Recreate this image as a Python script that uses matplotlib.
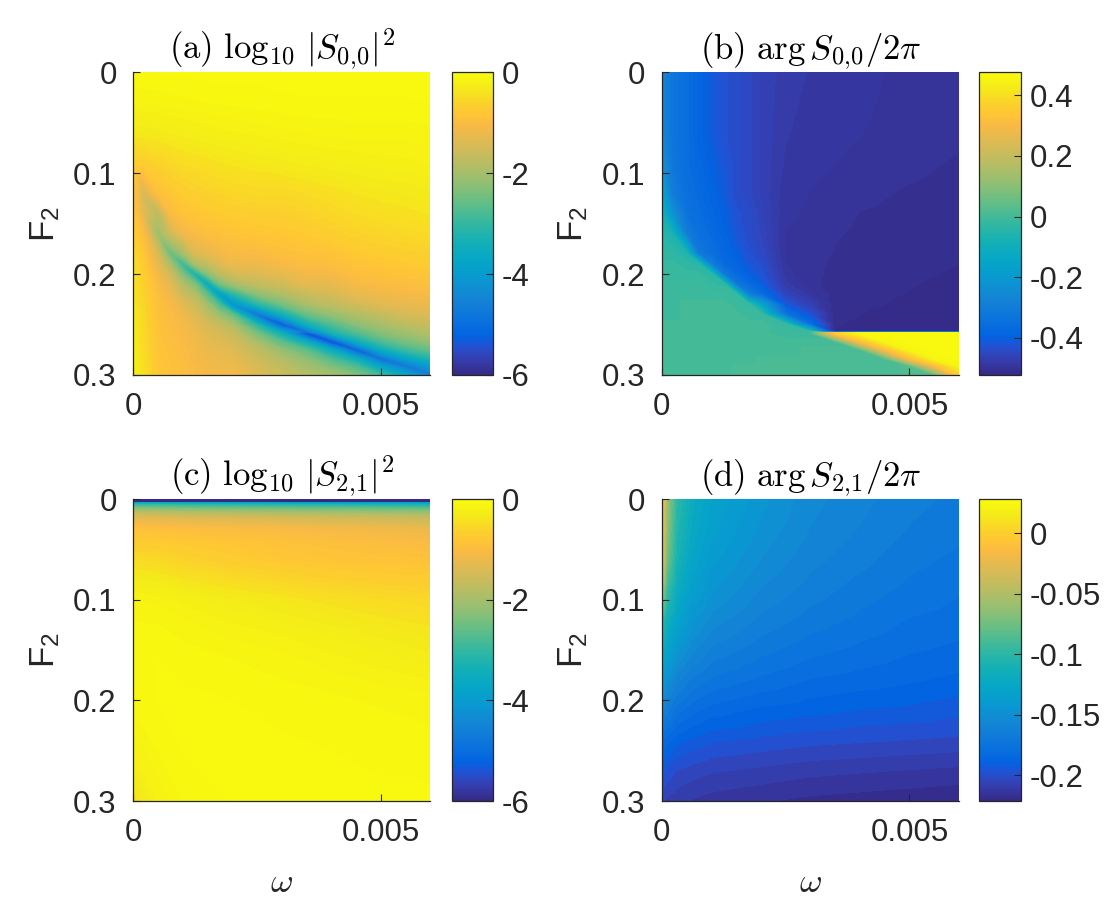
import numpy as np
import matplotlib
matplotlib.use('Agg')
import matplotlib.pyplot as plt
import matplotlib.tri as mtri
from matplotlib.colors import LinearSegmentedColormap, Normalize
from matplotlib.cm import ScalarMappable

plt.rcParams['font.family'] = ['Liberation Sans', 'DejaVu Sans']
plt.rcParams['mathtext.fontset'] = 'cm'
plt.rcParams['mathtext.rm'] = 'Liberation Sans'
plt.rcParams['mathtext.it'] = 'Liberation Sans:italic'
plt.rcParams['axes.unicode_minus'] = False

# ---- data (each inner list = one omega column, top to bottom in F2) ----
omega_top = [0, 0.0002, 0.0005, 0.00075, 0.001, 0.00125, 0.0015, 0.00175, 0.002,
             0.0025, 0.003, 0.0035, 0.004, 0.0045, 0.005, 0.0055, 0.006]
f2_top = [0, 0.03, 0.06, 0.09, 0.12, 0.14, 0.16, 0.18, 0.19, 0.20, 0.21,
          0.22, 0.23, 0.24, 0.25, 0.2575, 0.2585, 0.267, 0.275, 0.284, 0.291, 0.30]

# (a) log10 |S00|^2
s00_logabs = [
    [-0.05, -0.15, -0.35, -0.68, -0.9, -0.85, -0.68, -0.55, -0.5, -0.46, -0.42, -0.39, -0.36, -0.33, -0.31, -0.3, -0.3, -0.28, -0.27, -0.25, -0.24, -0.22],
    [-0.05, -0.15, -0.35, -0.7, -1.5, -1.35, -1.0, -0.82, -0.75, -0.7, -0.66, -0.62, -0.59, -0.56, -0.54, -0.53, -0.53, -0.51, -0.5, -0.48, -0.47, -0.46],
    [-0.05, -0.14, -0.33, -0.62, -0.95, -1.8, -2.1, -1.5, -1.3, -1.15, -1.05, -0.98, -0.94, -0.92, -0.9, -0.89, -0.89, -0.87, -0.85, -0.83, -0.81, -0.8],
    [-0.045, -0.13, -0.3, -0.56, -0.83, -1.05, -1.6, -2.6, -2.0, -1.6, -1.35, -1.18, -1.08, -1.03, -1.0, -0.98, -0.98, -0.96, -0.94, -0.92, -0.9, -0.88],
    [-0.04, -0.12, -0.28, -0.5, -0.72, -0.88, -1.2, -2.1, -3.0, -2.4, -1.9, -1.6, -1.35, -1.2, -1.12, -1.09, -1.08, -1.05, -1.02, -1.0, -0.98, -0.97],
    [-0.035, -0.11, -0.26, -0.47, -0.67, -0.83, -1.05, -1.45, -2.0, -3.35, -2.4, -1.9, -1.6, -1.42, -1.3, -1.22, -1.21, -1.17, -1.13, -1.1, -1.07, -1.05],
    [-0.03, -0.1, -0.24, -0.44, -0.63, -0.78, -0.97, -1.3, -1.7, -2.35, -3.7, -2.7, -2.1, -1.75, -1.5, -1.38, -1.37, -1.29, -1.22, -1.18, -1.15, -1.12],
    [-0.03, -0.095, -0.22, -0.41, -0.6, -0.75, -0.92, -1.16, -1.4, -1.8, -2.5, -4.0, -2.9, -2.15, -1.72, -1.52, -1.5, -1.38, -1.3, -1.22, -1.18, -1.12],
    [-0.03, -0.09, -0.21, -0.39, -0.57, -0.72, -0.88, -1.07, -1.22, -1.55, -2.1, -3.2, -4.3, -2.6, -1.95, -1.68, -1.65, -1.48, -1.36, -1.26, -1.2, -1.12],
    [-0.03, -0.08, -0.19, -0.35, -0.54, -0.67, -0.83, -1.05, -1.2, -1.42, -1.72, -2.3, -3.2, -4.9, -3.2, -2.5, -2.45, -2.0, -1.75, -1.58, -1.47, -1.38],
    [-0.02, -0.07, -0.17, -0.32, -0.55, -0.67, -0.8, -0.96, -1.08, -1.3, -1.55, -1.95, -2.5, -3.5, -5.4, -3.7, -3.5, -2.7, -2.2, -1.9, -1.74, -1.6],
    [-0.02, -0.06, -0.15, -0.29, -0.5, -0.62, -0.75, -0.9, -1.0, -1.13, -1.3, -1.65, -2.0, -2.6, -3.5, -5.0, -5.7, -3.6, -2.7, -2.25, -2.05, -1.85],
    [-0.02, -0.06, -0.14, -0.27, -0.45, -0.56, -0.68, -0.88, -0.97, -1.12, -1.3, -1.5, -1.75, -2.2, -2.8, -3.3, -3.45, -5.6, -3.6, -2.8, -2.4, -2.0],
    [-0.02, -0.06, -0.13, -0.25, -0.4, -0.5, -0.62, -0.78, -0.87, -0.97, -1.1, -1.27, -1.55, -1.9, -2.3, -2.75, -2.8, -3.6, -5.3, -3.5, -2.85, -2.35],
    [-0.02, -0.06, -0.13, -0.23, -0.37, -0.46, -0.58, -0.73, -0.82, -0.92, -1.03, -1.18, -1.36, -1.7, -2.0, -2.3, -2.33, -2.85, -3.6, -5.0, -3.9, -2.9],
    [-0.02, -0.06, -0.13, -0.22, -0.35, -0.43, -0.54, -0.69, -0.77, -0.87, -0.98, -1.11, -1.28, -1.48, -1.8, -2.05, -2.08, -2.45, -2.95, -3.9, -4.8, -3.7],
    [-0.02, -0.05, -0.12, -0.2, -0.32, -0.4, -0.5, -0.66, -0.74, -0.84, -0.95, -1.08, -1.22, -1.4, -1.62, -1.82, -1.85, -2.2, -2.6, -3.3, -4.0, -4.7],
]

# (b) arg S00 / 2pi
s00_phase = [
    [-0.27, -0.27, -0.26, -0.23, -0.16, -0.09, -0.05, -0.03, -0.02, -0.02, -0.01, -0.01, -0.01, -0.01, 0.0, 0.0, 0.0, 0.0, 0.0, 0.0, 0.0, 0.0],
    [-0.33, -0.33, -0.33, -0.32, -0.3, -0.22, -0.07, -0.03, -0.02, -0.02, -0.01, -0.01, -0.01, -0.01, 0.0, 0.0, 0.0, 0.0, 0.0, 0.0, 0.0, 0.0],
    [-0.36, -0.36, -0.36, -0.36, -0.35, -0.34, -0.3, -0.06, -0.03, -0.02, -0.01, -0.01, 0.0, 0.0, 0.0, 0.0, 0.0, 0.0, 0.0, 0.0, 0.0, 0.0],
    [-0.39, -0.39, -0.39, -0.38, -0.37, -0.36, -0.35, -0.32, -0.05, -0.02, -0.01, -0.01, 0.0, 0.0, 0.0, 0.0, 0.0, 0.0, 0.0, 0.0, 0.0, 0.0],
    [-0.41, -0.41, -0.41, -0.4, -0.39, -0.38, -0.37, -0.35, -0.3, -0.04, -0.02, -0.01, 0.0, 0.0, 0.0, 0.0, 0.0, 0.0, 0.0, 0.0, 0.0, 0.0],
    [-0.43, -0.43, -0.43, -0.42, -0.41, -0.4, -0.39, -0.38, -0.37, -0.32, -0.03, -0.01, 0.0, 0.0, 0.0, 0.0, 0.0, 0.0, 0.0, 0.0, 0.0, 0.0],
    [-0.44, -0.44, -0.44, -0.44, -0.44, -0.43, -0.42, -0.4, -0.39, -0.37, -0.32, -0.02, -0.01, 0.0, 0.0, 0.0, 0.0, 0.0, 0.0, 0.0, 0.01, 0.01],
    [-0.45, -0.45, -0.45, -0.45, -0.45, -0.44, -0.44, -0.43, -0.42, -0.4, -0.37, -0.3, -0.02, -0.01, 0.0, 0.0, 0.0, 0.0, 0.0, 0.0, 0.01, 0.01],
    [-0.465, -0.465, -0.465, -0.465, -0.465, -0.46, -0.455, -0.445, -0.435, -0.425, -0.405, -0.36, -0.15, -0.01, 0.0, 0.0, 0.0, 0.0, 0.0, 0.01, 0.01, 0.01],
    [-0.478, -0.48, -0.482, -0.485, -0.489, -0.491, -0.494, -0.495, -0.493, -0.49, -0.48, -0.46, -0.42, -0.34, -0.02, -0.01, -0.01, 0.0, 0.0, 0.01, 0.01, 0.01],
    [-0.484, -0.486, -0.488, -0.49, -0.4935, -0.495, -0.497, -0.499, -0.5, -0.5, -0.5, -0.49, -0.47, -0.43, -0.36, -0.02, -0.01, 0.0, 0.01, 0.01, 0.01, 0.01],
    [-0.486, -0.488, -0.49, -0.493, -0.497, -0.4995, -0.502, -0.504, -0.505, -0.506, -0.507, -0.508, -0.51, -0.511, -0.5125, -0.5135, 0.35, 0.0, 0.01, 0.01, 0.01, 0.01],
    [-0.488, -0.49, -0.4925, -0.496, -0.5005, -0.5035, -0.505, -0.507, -0.508, -0.509, -0.51, -0.511, -0.512, -0.513, -0.5145, -0.5155, 0.46, 0.3, 0.01, 0.01, 0.01, 0.01],
    [-0.493, -0.495, -0.497, -0.5, -0.5025, -0.5045, -0.506, -0.508, -0.509, -0.51, -0.511, -0.512, -0.513, -0.5145, -0.516, -0.517, 0.47, 0.45, 0.3, 0.01, 0.01, 0.01],
    [-0.494, -0.496, -0.498, -0.501, -0.504, -0.506, -0.508, -0.5095, -0.5105, -0.5115, -0.5125, -0.5135, -0.515, -0.516, -0.517, -0.518, 0.47, 0.47, 0.45, 0.3, 0.02, 0.02],
    [-0.496, -0.498, -0.5, -0.5025, -0.505, -0.507, -0.509, -0.511, -0.512, -0.5128, -0.514, -0.515, -0.516, -0.517, -0.518, -0.519, 0.47, 0.47, 0.47, 0.45, 0.3, 0.02],
    [-0.497, -0.499, -0.501, -0.504, -0.507, -0.508, -0.51, -0.512, -0.513, -0.514, -0.515, -0.516, -0.517, -0.518, -0.519, -0.52, 0.47, 0.47, 0.47, 0.47, 0.45, 0.35],
]

# (c) log10 |S21|^2
omega_c = [0, 0.0005, 0.001, 0.002, 0.003, 0.004, 0.005, 0.006]
f2_c = [0, 0.003, 0.0035, 0.006, 0.01, 0.015, 0.02, 0.03, 0.045, 0.06,
        0.08, 0.1, 0.13, 0.16, 0.2, 0.25, 0.3]
s21_logabs = [
    [-6.1, -6.1, -3.8, -2.9, -2.2, -1.6, -1.25, -0.9, -0.7, -0.5, -0.3, -0.15, -0.08, -0.05, -0.08, -0.2, -0.45],
    [-6.1, -6.1, -3.8, -2.95, -2.25, -1.65, -1.3, -0.93, -0.72, -0.55, -0.33, -0.17, -0.09, -0.05, -0.05, -0.1, -0.2],
    [-6.1, -6.1, -3.85, -3.0, -2.3, -1.7, -1.35, -0.96, -0.76, -0.62, -0.4, -0.22, -0.12, -0.07, -0.04, -0.05, -0.1],
    [-6.1, -6.1, -3.9, -3.05, -2.35, -1.75, -1.4, -1.0, -0.82, -0.72, -0.5, -0.3, -0.18, -0.1, -0.05, -0.04, -0.05],
    [-6.1, -6.1, -3.95, -3.1, -2.4, -1.8, -1.45, -1.05, -0.88, -0.8, -0.58, -0.37, -0.22, -0.13, -0.07, -0.04, -0.03],
    [-6.1, -6.1, -4.0, -3.15, -2.45, -1.85, -1.5, -1.1, -0.93, -0.85, -0.65, -0.44, -0.28, -0.18, -0.09, -0.05, -0.03],
    [-6.1, -6.1, -4.0, -3.2, -2.5, -1.9, -1.55, -1.15, -0.97, -0.88, -0.7, -0.5, -0.33, -0.23, -0.11, -0.06, -0.04],
    [-6.1, -6.1, -4.0, -3.25, -2.55, -1.95, -1.6, -1.22, -1.02, -0.9, -0.72, -0.55, -0.38, -0.28, -0.13, -0.07, -0.04],
]

# (d) arg S21 / 2pi
omega_d = [0, 0.0001, 0.0003, 0.0006, 0.001, 0.002, 0.003, 0.004, 0.005, 0.006]
f2_d = [0, 0.03, 0.06, 0.09, 0.12, 0.15, 0.18, 0.21, 0.24, 0.27, 0.3]
s21_phase = [
    [-0.01, -0.015, -0.02, -0.06, -0.1, -0.12, -0.14, -0.16, -0.18, -0.195, -0.205],
    [-0.06, -0.065, -0.075, -0.095, -0.115, -0.13, -0.15, -0.165, -0.185, -0.198, -0.208],
    [-0.1, -0.105, -0.11, -0.12, -0.13, -0.145, -0.16, -0.175, -0.19, -0.202, -0.21],
    [-0.12, -0.123, -0.128, -0.135, -0.145, -0.155, -0.168, -0.18, -0.193, -0.204, -0.212],
    [-0.132, -0.135, -0.14, -0.146, -0.154, -0.163, -0.173, -0.184, -0.196, -0.206, -0.214],
    [-0.145, -0.148, -0.152, -0.157, -0.163, -0.17, -0.178, -0.188, -0.198, -0.208, -0.216],
    [-0.155, -0.157, -0.16, -0.164, -0.169, -0.175, -0.182, -0.19, -0.2, -0.21, -0.218],
    [-0.16, -0.162, -0.165, -0.169, -0.173, -0.178, -0.184, -0.192, -0.201, -0.211, -0.219],
    [-0.165, -0.167, -0.17, -0.173, -0.177, -0.181, -0.186, -0.193, -0.202, -0.212, -0.22],
    [-0.168, -0.17, -0.173, -0.176, -0.179, -0.183, -0.188, -0.195, -0.203, -0.213, -0.221],
]

# parula-like colormap
parula_pts = [
    (0, (0.2081, 0.1663, 0.5292)), (2, (0.2123, 0.2138, 0.6270)),
    (4, (0.1959, 0.2645, 0.7279)), (6, (0.1253, 0.3242, 0.8303)),
    (8, (0.0117, 0.3875, 0.8820)), (12, (0.0498, 0.4586, 0.8641)),
    (16, (0.0793, 0.5200, 0.8312)), (20, (0.0343, 0.5966, 0.8199)),
    (24, (0.0228, 0.6535, 0.7768)), (28, (0.0843, 0.6928, 0.7062)),
    (32, (0.2178, 0.7250, 0.6193)), (36, (0.3953, 0.7459, 0.5244)),
    (40, (0.5709, 0.7485, 0.4494)), (44, (0.7184, 0.7411, 0.3905)),
    (48, (0.8507, 0.7299, 0.3360)), (52, (0.9739, 0.7314, 0.2666)),
    (54, (0.9990, 0.7653, 0.2164)), (56, (0.9880, 0.8066, 0.1794)),
    (60, (0.9598, 0.9218, 0.0948)), (63, (0.9763, 0.9831, 0.0538)),
]
parula = LinearSegmentedColormap.from_list('parula', [(i / 63, c) for i, c in parula_pts], N=256)

dark = '#262626'
fig = plt.figure(figsize=(11.14, 8.99), dpi=100)


def grid_tri(w, f):
    # split every grid cell along the diagonal running to larger omega and F2
    W, F = np.meshgrid(w, f)
    nf, nw = W.shape
    idx = np.arange(nf * nw).reshape(nf, nw)
    a = idx[:-1, :-1].ravel()
    b = idx[:-1, 1:].ravel()
    c = idx[1:, 1:].ravel()
    d = idx[1:, :-1].ravel()
    tris = np.concatenate([np.stack([a, b, c], 1), np.stack([a, c, d], 1)])
    return mtri.Triangulation(W.ravel(), F.ravel(), tris)


def panel(pos, cpos, w, f, cols, vmin, vmax, nlev, title, cticks, clabels, xlabel=False):
    ax = fig.add_axes(pos)
    cax = fig.add_axes(cpos)
    z = np.array(cols).T
    levels = np.linspace(vmin, vmax, nlev)
    cs = ax.tricontourf(grid_tri(w, f), z.ravel(), levels=levels, cmap=parula, extend='both')
    cs.set_edgecolor('face')
    cs.set_linewidth(0.4)
    ax.set_xlim(0, 0.006)
    ax.set_ylim(0.3, 0)
    ax.set_xticks([0, 0.005])
    ax.set_xticklabels(['0', '0.005'])
    ax.set_yticks([0, 0.1, 0.2, 0.3])
    ax.set_yticklabels(['0', '0.1', '0.2', '0.3'])
    for s in ['top', 'right']:
        ax.spines[s].set_visible(False)
    for s in ['left', 'bottom']:
        ax.spines[s].set_color(dark)
        ax.spines[s].set_linewidth(0.9)
    ax.tick_params(direction='in', length=5, width=0.8, labelsize=22.5,
                   colors=dark, pad=12)
    ax.tick_params(axis='x', pad=12)
    ax.set_title(title, fontsize=25, pad=6, color='black')
    ax.set_ylabel(r'$\mathrm{F}_\mathrm{2}$', math_fontfamily='custom',
                  fontsize=25, color=dark, labelpad=8)
    if xlabel:
        ax.set_xlabel(r'$\omega$', fontsize=25, color=dark, labelpad=13)

    cb = fig.colorbar(ScalarMappable(norm=Normalize(vmin, vmax), cmap=parula), cax=cax)
    cb.set_ticks(cticks)
    cb.set_ticklabels(clabels)
    cb.outline.set_edgecolor(dark)
    cb.outline.set_linewidth(0.9)
    cax.tick_params(direction='in', length=5, width=0.8, labelsize=22.5,
                    colors=dark, pad=6)
    return ax


top_b, bot_b = 0.5829, 0.1090
top_h, bot_h = 0.3367, 0.3356

panel([0.1197, top_b, 0.2663, top_h], [0.4060, top_b, 0.0368, top_h],
      omega_top, f2_top, s00_logabs, -6, 0, 121,
      r'$\mathrm{(a)}\ \log_{10}\,|S_{0,\!0}|^2$',
      [-6, -4, -2, 0], ['-6', '-4', '-2', '0'])
panel([0.5940, top_b, 0.2669, top_h], [0.8791, top_b, 0.0377, top_h],
      omega_top, f2_top, s00_phase, -0.523, 0.476, 101,
      r'$\mathrm{(b)}\ \arg S_{0,\!0}/2\pi$',
      [-0.4, -0.2, 0, 0.2, 0.4], ['-0.4', '-0.2', '0', '0.2', '0.4'])
panel([0.1197, bot_b, 0.2663, bot_h], [0.4060, bot_b, 0.0368, bot_h],
      omega_c, f2_c, s21_logabs, -6, 0, 121,
      r'$\mathrm{(c)}\ \log_{10}\,|S_{2,\!1}|^2$',
      [-6, -4, -2, 0], ['-6', '-4', '-2', '0'], xlabel=True)
panel([0.5940, bot_b, 0.2669, bot_h], [0.8791, bot_b, 0.0377, bot_h],
      omega_d, f2_d, s21_phase, -0.2215, 0.028, 51,
      r'$\mathrm{(d)}\ \arg S_{2,\!1}/2\pi$',
      [-0.2, -0.15, -0.1, -0.05, 0], ['-0.2', '-0.15', '-0.1', '-0.05', '0'], xlabel=True)

fig.savefig('out.png', dpi=100)
